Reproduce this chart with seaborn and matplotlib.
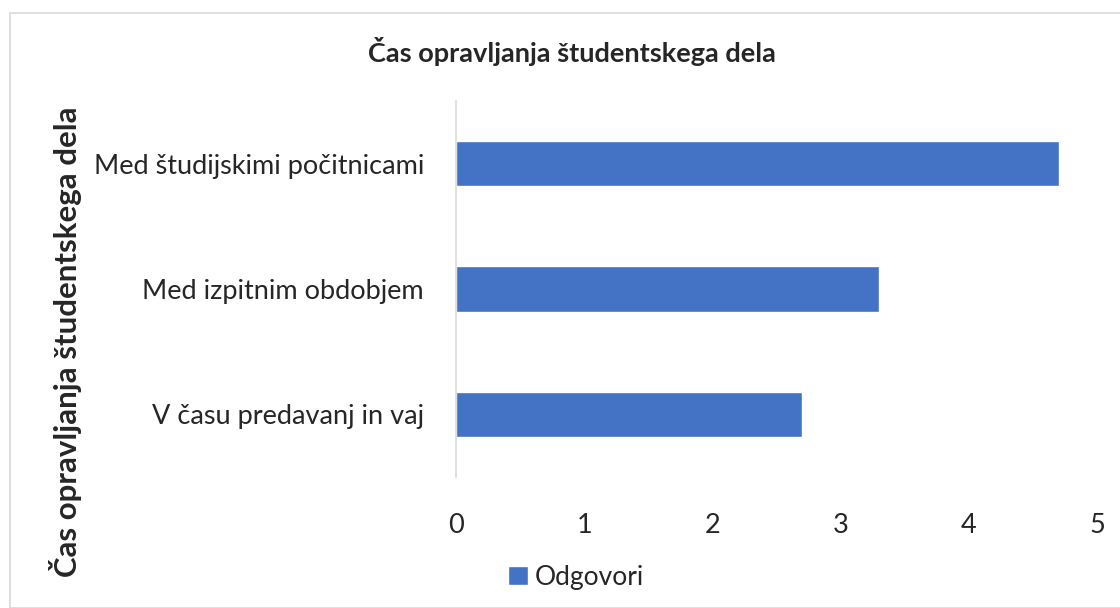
import matplotlib
matplotlib.use("Agg")
import matplotlib.pyplot as plt
import seaborn as sns
import pandas as pd
from matplotlib.patches import Rectangle

# Data
categories = ["Med študijskimi počitnicami", "Med izpitnim obdobjem", "V času predavanj in vaj"]
values = [4.7, 3.3, 2.7]
series_name = "Odgovori"
title = "Čas opravljanja študentskega dela"
bar_color = "#4472C4"

df = pd.DataFrame({"kategorija": categories, "vrednost": values})

sns.set_style("white")
plt.rcParams["font.family"] = ["Lato", "DejaVu Sans"]

fig = plt.figure(figsize=(11.2, 6.08), dpi=100)
ax = fig.add_axes([456 / 1120, 1 - 477 / 608, (1097 - 456) / 1120, (477 - 101) / 608])

sns.barplot(data=df, x="vrednost", y="kategorija", color=bar_color,
            width=0.36, ax=ax, label=series_name, saturation=1)

ax.set_xlim(0, 5)
ax.set_xticks(range(0, 6))
ax.tick_params(axis="x", labelsize=19.5, length=0, pad=26)
ax.tick_params(axis="y", labelsize=19.5, length=0, pad=23)
ax.set_xlabel("")
ax.set_ylabel("Čas opravljanja študentskega dela", fontsize=22.5, fontweight="bold")
ax.yaxis.set_label_coords(-0.583, 0.36)

for s in ["top", "right", "bottom"]:
    ax.spines[s].set_visible(False)
ax.spines["left"].set_color("#d9d9d9")
ax.spines["left"].set_linewidth(1.2)

fig.text(572 / 1120, 1 - 52 / 608, title, ha="center", va="center", fontsize=19.5, fontweight="bold")

leg = ax.legend(loc="center", bbox_to_anchor=(576 / 1120, 1 - 577 / 608), bbox_transform=fig.transFigure,
                frameon=False, fontsize=19, handlelength=0.75, handleheight=0.75, handletextpad=0.25)

# outer chart border
fig.patches.append(Rectangle((10 / 1120, 0), 1.0, 1 - 13 / 608, transform=fig.transFigure,
                             fill=False, edgecolor="#d9d9d9", linewidth=1.2))

fig.savefig("out.png", dpi=100)
